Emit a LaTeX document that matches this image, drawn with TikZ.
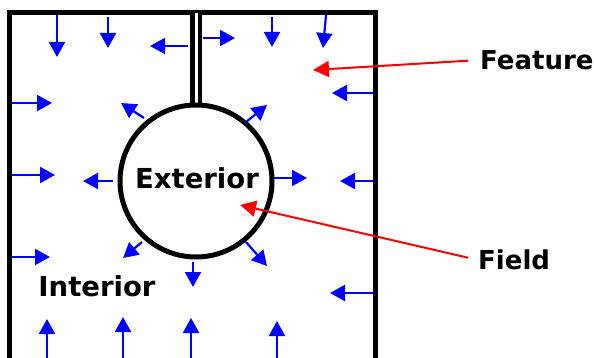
\documentclass[tikz,border=0pt]{standalone}
\usepackage{fontspec}
\setmainfont{DejaVu Sans}
\usetikzlibrary{arrows.meta}
\begin{document}
\begin{tikzpicture}[x=1pt,y=-1pt,font=\fontsize{26}{30}\selectfont\bfseries]
        \tikzset{vec/.style={draw=blue, line width=2.2pt, -{Triangle[length=15pt,width=16pt]}},
                 callout/.style={draw=red, line width=2pt, -{Triangle[length=16pt,width=16pt]}},
                 wall/.style={line width=5pt},
                 caption/.style={inner sep=0pt}}
        \useasboundingbox (0,0) rectangle (594,358);
        % walls, stem and circle
        \draw[wall] (9.5,358) -- (9.5,13) -- (375,13) -- (375,358);
        \draw[line width=4.5pt, double, double distance=3pt] (196,13) -- (196,106);
        \draw[wall, fill=white] (196,181) circle (76);
        % text
        \node[caption, font=\fontsize{27.5}{30}\selectfont\bfseries] (ext) at (197,178) {Exterior};
        \node[caption, font=\fontsize{27.5}{30}\selectfont\bfseries] (int) at (97,286) {Interior};
        \node[caption, anchor=west] (feat) at (480,60) {Feature};
        \node[caption, anchor=west] (fld) at (478,260) {Field};
        \coordinate (featpt) at (313,70);
        \coordinate (fldpt) at (240,205);
        \draw[callout, shorten <=12pt] (feat.west) -- (featpt);
        \draw[callout, shorten <=10pt] (fld.west) -- (fldpt);
        % field vectors, top
        \draw[vec] (57,15) -- (57,57);
        \draw[vec] (108,17) -- (108,48);
        \draw[vec] (188,46) -- (150,46);
        \draw[vec] (203,38) -- (235,38);
        \draw[vec] (272,17) -- (272,47);
        \draw[vec] (326,15) -- (323,48);
        \draw[vec] (373,93) -- (332,93);
        % middle
        \draw[vec] (12,103) -- (52,103);
        \draw[vec] (144,118) -- (121,103);
        \draw[vec] (246,122) -- (267,105);
        \draw[vec] (12,175) -- (55,175);
        \draw[vec] (113,181) -- (83,181);
        \draw[vec] (274,178) -- (307,178);
        \draw[vec] (373,181) -- (340,181);
        \draw[vec] (12,257) -- (50,257);
        \draw[vec] (142,242) -- (123,258);
        \draw[vec] (193,262) -- (193,287);
        \draw[vec] (246,242) -- (267,266);
        \draw[vec] (373,293) -- (330,293);
        % bottom
        \draw[vec] (47,358) -- (47,319);
        \draw[vec] (123,358) -- (123,317);
        \draw[vec] (191,358) -- (191,318);
        \draw[vec] (277,358) -- (277,321);
    \end{tikzpicture}
\end{document}
